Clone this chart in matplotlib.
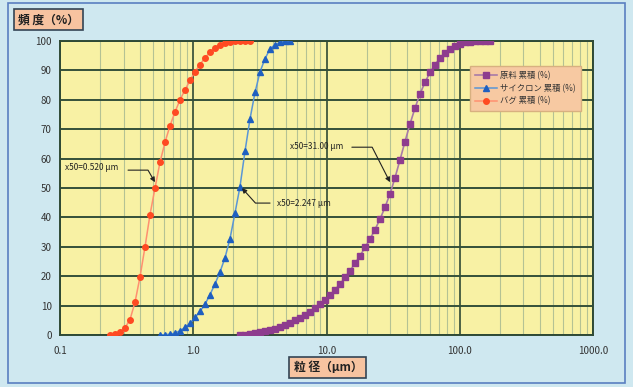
import matplotlib
matplotlib.use("Agg")
import matplotlib.pyplot as plt
from matplotlib.patches import Rectangle

plt.rcParams['font.family'] = ['Noto Sans CJK JP', 'DejaVu Sans']

# ---- data ----
raw_x = [2.243, 2.445, 2.666, 2.907, 3.169, 3.455, 3.767, 4.107, 4.477, 4.881,
         5.321, 5.801, 6.325, 6.896, 7.518, 8.196, 8.937, 9.743, 10.62, 11.58,
         12.63, 13.77, 15.01, 16.36, 17.84, 19.45, 21.21, 23.12, 25.20, 27.48,
         29.96, 32.66, 35.61, 38.82, 42.33, 46.15, 50.31, 54.86, 59.81, 65.21,
         71.10, 77.52, 84.52, 92.10, 100.4, 109.5, 119.4, 130.1, 141.9, 154.7, 168.7]
raw_y = [0.0, 0.2, 0.4, 0.6, 0.9, 1.3, 1.7, 2.2, 2.8, 3.5,
         4.2, 5.0, 5.9, 6.9, 8.0, 9.2, 10.5, 12.0, 13.6, 15.4,
         17.4, 19.6, 21.9, 24.4, 27.0, 29.8, 32.7, 35.9, 39.4, 43.5,
         48.0, 53.5, 59.6, 65.8, 71.8, 77.2, 82.0, 86.0, 89.3, 92.0,
         94.2, 95.9, 97.2, 98.2, 99.0, 99.5, 99.8, 99.95, 100.0, 100.0, 100.0]

cyc_x = [0.5630, 0.6138, 0.6692, 0.7296, 0.7955, 0.8673, 0.9454, 1.031, 1.124, 1.225,
         1.336, 1.456, 1.588, 1.731, 1.887, 2.057, 2.243, 2.445, 2.666, 2.907,
         3.169, 3.455, 3.767, 4.107, 4.477, 4.881, 5.321]
cyc_y = [0.0, 0.2, 0.3, 0.7, 1.5, 2.6, 4.0, 6.0, 8.1, 10.5,
         13.8, 17.4, 21.5, 26.3, 32.8, 41.5, 50.5, 62.5, 73.5, 82.5,
         89.5, 94.0, 97.3, 98.8, 99.5, 99.9, 100.0]

bag_x = [0.2372, 0.2586, 0.2820, 0.3074, 0.3352, 0.3655, 0.3985, 0.4344, 0.4737, 0.5164,
         0.5630, 0.6138, 0.6692, 0.7296, 0.7955, 0.8673, 0.9454, 1.031, 1.124, 1.225,
         1.336, 1.456, 1.588, 1.731, 1.887, 2.057, 2.243, 2.445, 2.666]
bag_y = [0.2, 0.4, 0.9, 2.5, 5.3, 11.2, 19.8, 30.0, 41.0, 50.0,
         58.8, 65.6, 71.2, 75.9, 80.0, 83.4, 86.6, 89.6, 92.0, 94.3,
         96.2, 97.5, 98.6, 99.4, 99.8, 100.0, 100.0, 100.0, 100.0]

series_labels = ['原料 累積 (%)', 'サイクロン 累積 (%)', 'バグ 累積 (%)']
x_ticks = [0.1, 1, 10, 100, 1000]
x_ticklabels = ['0.1', '1.0', '10.0', '100.0', '1000.0']
y_ticks = list(range(0, 101, 10))

# label, text position, elbow start, arrow tip, angle of last segment
annotations = [
    ('x50=0.520 μm', (0.109, 57.1), (0.324, 56.1), (0.516, 52.0), 120),
    ('x50=2.247 μm', (4.25, 44.9), (3.77, 44.9), (2.32, 50.0), -48),
    ('x50=31.00 μm', (5.32, 64.2), (15.5, 63.9), (29.96, 52.0), 117),
]

# ---- figure ----
fig = plt.figure(figsize=(6.33, 3.87), dpi=100)
fig.patch.set_facecolor('#cfe8f0')
fig.patches.append(Rectangle((0.012, 0.01), 0.976, 0.982, transform=fig.transFigure,
                             fill=False, edgecolor='#5a7fc0', linewidth=1.2))

ax = fig.add_axes([0.0948, 0.134, 0.842, 0.760])
ax.set_facecolor('#f8f1a4')
ax.set_xscale('log')
ax.set_xlim(0.1, 1000)
ax.set_ylim(0, 100)

ax.grid(True, which='minor', axis='x', color='#b4c294', linewidth=0.8)
ax.grid(True, which='major', axis='x', color='#2f4a35', linewidth=1.2)
ax.grid(True, which='major', axis='y', color='#34503a', linewidth=1.4)
ax.set_axisbelow(True)

ax.plot(raw_x, raw_y, color='#a87aa8', linewidth=1.2, marker='s', markersize=3.8,
        markerfacecolor='#8e3c8e', markeredgecolor='#8e3c8e', label=series_labels[0], zorder=3)
ax.plot(cyc_x, cyc_y, color='#5a96d6', linewidth=1.1, marker='^', markersize=4.6,
        markerfacecolor='#1f5fc0', markeredgecolor='#1f5fc0', label=series_labels[1], zorder=3)
ax.plot(bag_x, bag_y, color='#ff9070', linewidth=1.1, marker='o', markersize=4.0,
        markerfacecolor='#ff4a22', markeredgecolor='#ff4a22', label=series_labels[2], zorder=3)

ax.set_xticks(x_ticks)
ax.set_xticklabels(x_ticklabels)
ax.set_yticks(y_ticks)
ax.tick_params(axis='both', which='both', length=0, labelsize=7, colors='#333333', pad=6)
ax.tick_params(axis='x', pad=8)
for s in ax.spines.values():
    s.set_color('#2f4a35')
    s.set_linewidth(1.4)

txt_kw = dict(fontsize=6, color='#222222')
for label, tpos, start, tip, angB in annotations:
    ax.text(tpos[0], tpos[1], label, ha='left', va='center', zorder=5, **txt_kw)
    ax.annotate('', xy=tip, xytext=start,
                arrowprops=dict(arrowstyle='-|>', color='#222222', lw=0.8,
                                connectionstyle=f'angle,angleA=0,angleB={angB},rad=0',
                                mutation_scale=7, shrinkA=0, shrinkB=0), zorder=4)

leg = ax.legend(loc='upper left', bbox_to_anchor=(0.762, 0.93), fontsize=6,
                frameon=True, fancybox=False, borderpad=0.6, labelspacing=0.45,
                handlelength=2.6, handletextpad=0.4)
leg.get_frame().set_facecolor('#f7c9a2')
leg.get_frame().set_edgecolor('#d8b080')
leg.get_frame().set_alpha(1)
for t in leg.get_texts():
    t.set_color('#333333')

bbox_kw = dict(boxstyle='square,pad=0.35', facecolor='#f7c3a0', edgecolor='#334455', linewidth=1.2)
fig.text(0.077, 0.949, '頻 度（%）', ha='center', va='center', fontsize=8.5, fontweight='bold',
         color='#222222', bbox=bbox_kw)
fig.text(0.518, 0.050, '粒 径（μm）', ha='center', va='center', fontsize=8.5, fontweight='bold',
         color='#222222', bbox=bbox_kw)

fig.savefig('out.png', dpi=100, facecolor=fig.get_facecolor())
